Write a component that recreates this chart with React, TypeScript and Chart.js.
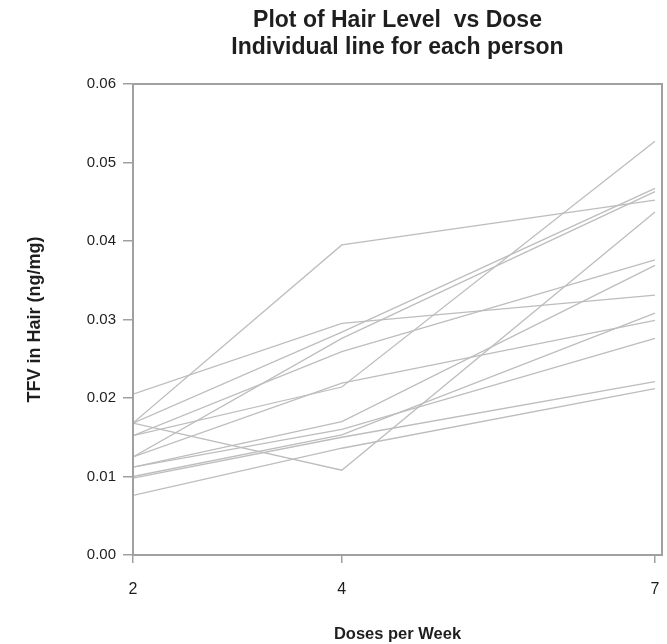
import React, { useEffect, useRef } from "react";
import { Chart, registerables } from "chart.js";

Chart.register(...registerables);

const doses = [2, 4, 7];
const xTickValues = [2, 4, 7];
const yTickValues = [0, 0.01, 0.02, 0.03, 0.04, 0.05, 0.06];
const titleLines = ["Plot of Hair Level  vs Dose", "Individual line for each person"];
const xTitle = "Doses per Week";
const yTitle = "TFV in Hair (ng/mg)";

const person01 = [0.0205, 0.0295, 0.0331];
const person02 = [0.0168, 0.0395, 0.0452];
const person03 = [0.0168, 0.0108, 0.0437];
const person04 = [0.0168, 0.0284, 0.0467];
const person05 = [0.0125, 0.0276, 0.0463];
const person06 = [0.0152, 0.0259, 0.0376];
const person07 = [0.0152, 0.0214, 0.0527];
const person08 = [0.0125, 0.0219, 0.0299];
const person09 = [0.0112, 0.017, 0.0369];
const person10 = [0.0112, 0.016, 0.0276];
const person11 = [0.01, 0.0153, 0.0308];
const person12 = [0.0098, 0.015, 0.0221];
const person13 = [0.0076, 0.0136, 0.0212];

const people = [
  person01, person02, person03, person04, person05, person06, person07,
  person08, person09, person10, person11, person12, person13,
];

const FONT = '"Liberation Sans", Arial, sans-serif';

const framePlugin = {
  id: "frameAndTitle",
  afterDraw(chart: any) {
    const { ctx, chartArea } = chart;
    ctx.save();
    ctx.strokeStyle = "#a0a0a0";
    ctx.lineWidth = 2;
    ctx.strokeRect(chartArea.left, chartArea.top, chartArea.right - chartArea.left, chartArea.bottom - chartArea.top);
    ctx.fillStyle = "#1e1e1e";
    ctx.font = `bold 23px ${FONT}`;
    ctx.textAlign = "center";
    ctx.textBaseline = "middle";
    const cx = (chartArea.left + chartArea.right) / 2;
    ctx.fillText(titleLines[0], cx, 21);
    ctx.fillText(titleLines[1], cx, 48);
    ctx.restore();
  },
};

export default function App() {
  const ref = useRef<HTMLCanvasElement>(null);
  useEffect(() => {
    if (!ref.current) return;
    const chart = new Chart(ref.current, {
      type: "line",
      data: {
        datasets: people.map((vals, i) => ({
          label: `Person ${i + 1}`,
          data: doses.map((d, j) => ({ x: d, y: vals[j] })),
          borderColor: "#bdbdbd",
          borderWidth: 1.3,
          pointRadius: 0,
          tension: 0,
          fill: false,
        })),
      },
      options: {
        animation: false,
        responsive: false,
        layout: { padding: { top: 84, right: 5, left: 0, bottom: 0 } },
        plugins: {
          legend: { display: false },
          title: { display: false },
          tooltip: { enabled: false },
        },
        scales: {
          x: {
            type: "linear",
            min: 2,
            max: 7.067,
            afterBuildTicks: (scale: any) => {
              scale.ticks = xTickValues.map((v) => ({ value: v }));
            },
            afterFit: (scale: any) => {
              scale.height = 89;
              scale.paddingLeft = 0;
              scale.paddingRight = 0;
            },
            border: { display: false },
            grid: { drawOnChartArea: false, drawTicks: true, tickLength: 8, color: "#a0a0a0", lineWidth: 1.5 },
            ticks: {
              color: "#1e1e1e",
              font: { family: FONT, size: 16 },
              padding: 17,
              maxRotation: 0,
              autoSkip: false,
              callback: (v: any) => String(v),
            },
            title: {
              display: true,
              text: xTitle,
              color: "#1e1e1e",
              font: { family: FONT, size: 16.5, weight: "bold" },
              padding: { top: 0, bottom: 0 },
            },
          },
          y: {
            type: "linear",
            min: 0,
            max: 0.06,
            afterBuildTicks: (scale: any) => {
              scale.ticks = yTickValues.map((v) => ({ value: v }));
            },
            afterFit: (scale: any) => {
              scale.width = 133;
            },
            border: { display: false },
            grid: { drawOnChartArea: false, drawTicks: true, tickLength: 10, color: "#a0a0a0", lineWidth: 1.5 },
            ticks: {
              color: "#1e1e1e",
              font: { family: FONT, size: 15 },
              padding: 7,
              autoSkip: false,
              callback: (v: any) => Number(v).toFixed(2),
            },
            title: {
              display: true,
              text: yTitle,
              color: "#1e1e1e",
              font: { family: FONT, size: 18, weight: "bold" },
              padding: { top: 24, bottom: 0 },
            },
          },
        },
      },
      plugins: [framePlugin],
    });
    return () => chart.destroy();
  }, []);
  return (
    <div style={{ position: "absolute", left: 0, top: 0, width: 667, height: 644, background: "#fff" }}>
      <canvas ref={ref} width={667} height={644} />
    </div>
  );
}
